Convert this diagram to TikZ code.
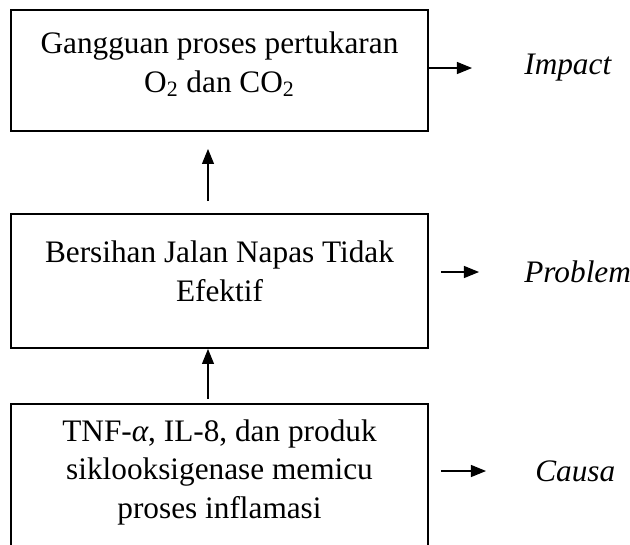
\documentclass[tikz,border=0pt]{standalone}
\usepackage{fontspec}
\setmainfont{Liberation Serif}
\usetikzlibrary{arrows.meta,positioning}

\begin{document}
\begin{tikzpicture}[every node/.style={font=\fontsize{17.8}{22}\selectfont}, >={Triangle[length=3mm,width=2.4mm]},
	box/.style={draw, line width=1.1pt, minimum width=8.34cm, inner sep=0pt},
	boxtext/.style={align=center, inner sep=0pt},
	lbl/.style={font=\fontsize{17.8}{22}\selectfont\itshape, anchor=west, inner sep=0pt},
	arr/.style={->, line width=0.6pt}]
	\useasboundingbox (0,0) rectangle (12.6,-10.9);
	\clip (0,0) rectangle (12.6,-10.9);
	% the three boxes
	\node[box, minimum height=2.42cm] (impact) at (4.39,-1.41) {};
	\node[box, minimum height=2.68cm] (problem) at (4.39,-5.62) {};
	\node[box, minimum height=3.32cm] (causa) at (4.39,-9.74) {};
	\node[boxtext, below=0.45cm of impact.north] (impacttext) {Gangguan proses pertukaran\\O\textsubscript{2} dan CO\textsubscript{2}};
	\node[boxtext, below=0.55cm of problem.north] (problemtext) {Bersihan Jalan Napas Tidak\\Efektif};
	\node[boxtext, below=0.32cm of causa.north] (causatext) {TNF-{\itshape α}, IL-8, dan produk\\siklooksigenase memicu\\proses inflamasi};
	% labels on the right
	\node[lbl] (impactlbl) at (10.48,-1.36) {Impact};
	\node[lbl] (problemlbl) at (10.48,-5.44) {Problem};
	\node[lbl] (causalbl) at (10.7,-9.42) {Causa};
	\draw[arr] (impact.east |- impactlbl) -- ([xshift=-1.04cm]impactlbl.west);
	\draw[arr] ([xshift=0.24cm]problem.east |- problemlbl) -- ([xshift=-0.9cm]problemlbl.west);
	\draw[arr] ([xshift=0.24cm]causa.east |- causalbl) -- ([xshift=-0.98cm]causalbl.west);
	% upward arrows
	\draw[arr] ([xshift=-0.23cm,yshift=0.24cm]problem.north) -- ([xshift=-0.23cm,yshift=-0.34cm]impact.south);
	\draw[arr] ([xshift=-0.23cm,yshift=0.08cm]causa.north) -- ([xshift=-0.23cm]problem.south);
\end{tikzpicture}
\end{document}
